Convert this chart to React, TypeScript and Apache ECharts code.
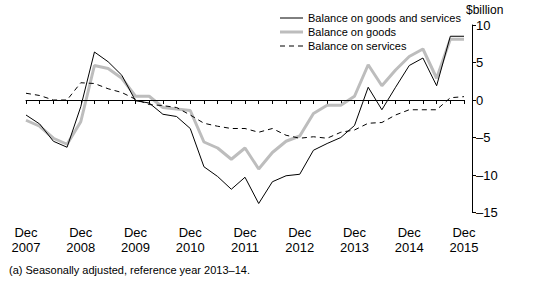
import React, { useEffect, useRef } from "react";
import * as echarts from "echarts";

const categories = [
  "Dec 2007", "Mar 2008", "Jun 2008", "Sep 2008", "Dec 2008", "Mar 2009", "Jun 2009", "Sep 2009",
  "Dec 2009", "Mar 2010", "Jun 2010", "Sep 2010", "Dec 2010", "Mar 2011", "Jun 2011", "Sep 2011",
  "Dec 2011", "Mar 2012", "Jun 2012", "Sep 2012", "Dec 2012", "Mar 2013", "Jun 2013", "Sep 2013",
  "Dec 2013", "Mar 2014", "Jun 2014", "Sep 2014", "Dec 2014", "Mar 2015", "Jun 2015", "Sep 2015",
  "Dec 2015",
];

const goodsAndServices = [
  -2.0, -3.2, -5.5, -6.3, -0.9, 6.4, 5.1, 3.3, -0.1, -0.4, -1.9, -2.2, -3.8, -8.9, -10.2, -11.9,
  -10.3, -13.8, -10.9, -10.1, -9.9, -6.7, -5.8, -5.0, -3.4, 1.7, -1.3, 1.7, 4.6, 5.6, 1.9, 8.5, 8.5,
];

const goods = [
  -2.7, -3.5, -5.1, -5.9, -2.9, 4.6, 4.2, 2.9, 0.5, 0.5, -1.0, -1.2, -1.4, -5.6, -6.4, -7.9,
  -6.4, -9.2, -7.0, -5.5, -4.8, -1.8, -0.7, -0.7, 0.5, 4.7, 1.9, 4.0, 5.8, 6.8, 2.9, 8.1, 8.1,
];

const services = [
  0.9, 0.6, 0.0, 0.0, 2.3, 2.2, 1.5, 1.0, 0.1, -0.6, -0.75, -1.0, -2.0, -3.1, -3.5, -3.8,
  -3.8, -4.3, -3.8, -4.7, -5.1, -4.9, -5.1, -4.3, -4.0, -3.1, -3.0, -2.0, -1.3, -1.3, -1.3, 0.3, 0.45,
];

const seriesNames = ["Balance on goods and services", "Balance on goods", "Balance on services"];
const unitLabel = "$billion";
const footnote = "(a) Seasonally adjusted, reference year 2013\u201314.";

const FONT = "'Liberation Sans', Arial, sans-serif";

const legendStyles = [
  { stroke: "#000", lineWidth: 1, lineDash: null as number[] | null },
  { stroke: "#bdbdbd", lineWidth: 3, lineDash: null as number[] | null },
  { stroke: "#000", lineWidth: 1, lineDash: [5, 4] as number[] | null },
];

export default function App() {
  const ref = useRef<HTMLDivElement>(null);

  useEffect(() => {
    if (!ref.current) return;
    const chart = echarts.init(ref.current, undefined, { renderer: "svg" });

    const legendGraphics: any[] = [];
    seriesNames.forEach((name, i) => {
      const y = 18 + i * 14;
      const st = legendStyles[i];
      legendGraphics.push({
        type: "line",
        shape: { x1: 280, y1: y, x2: 303, y2: y },
        style: { stroke: st.stroke, lineWidth: st.lineWidth, lineDash: st.lineDash || undefined },
        silent: true,
      });
      legendGraphics.push({
        type: "text",
        x: 308,
        y: y,
        style: {
          text: name,
          fontSize: 11,
          fill: "#000",
          fontFamily: FONT,
          verticalAlign: "middle",
          align: "left",
        },
        silent: true,
      });
    });

    chart.setOption({
      animation: false,
      backgroundColor: "#fff",
      textStyle: { fontFamily: FONT, color: "#000" },
      grid: { left: 26, right: 76, top: 25, bottom: 69.5, containLabel: false },
      xAxis: {
        type: "category",
        data: categories,
        boundaryGap: false,
        offset: 7.5,
        axisLine: { show: true, lineStyle: { color: "#000", width: 1 } },
        axisTick: { show: true, interval: 0, length: 4, lineStyle: { color: "#000" } },
        axisLabel: {
          interval: 3,
          margin: 5,
          fontSize: 13,
          lineHeight: 15,
          color: "#000",
          fontFamily: FONT,
          formatter: (v: string) => v.replace(" ", "\n"),
        },
        splitLine: { show: false },
      },
      yAxis: {
        type: "value",
        position: "right",
        min: -15,
        max: 10,
        interval: 5,
        offset: 8,
        axisLine: { show: true, lineStyle: { color: "#000", width: 1 } },
        axisTick: { show: true, length: 4, lineStyle: { color: "#000" } },
        axisLabel: {
          margin: 4,
          fontSize: 13,
          color: "#000",
          fontFamily: FONT,
          formatter: (v: number) => (v < 0 ? "\u2013" + Math.abs(v) : String(v)),
        },
        splitLine: { show: false },
      },
      graphic: [
        {
          type: "text",
          left: 466,
          top: 4,
          style: { text: unitLabel, fontSize: 12, fill: "#000", fontFamily: FONT },
        },
        {
          type: "text",
          left: 9,
          top: 264,
          style: { text: footnote, fontSize: 11, fill: "#000", fontFamily: FONT },
        },
        ...legendGraphics,
      ],
      series: [
        {
          name: seriesNames[1],
          type: "line",
          data: goods,
          symbol: "none",
          lineStyle: { color: "#bdbdbd", width: 3 },
          itemStyle: { color: "#bdbdbd" },
          z: 2,
        },
        {
          name: seriesNames[0],
          type: "line",
          data: goodsAndServices,
          symbol: "none",
          lineStyle: { color: "#000", width: 1 },
          itemStyle: { color: "#000" },
          z: 3,
        },
        {
          name: seriesNames[2],
          type: "line",
          data: services,
          symbol: "none",
          lineStyle: { color: "#000", width: 1, type: [5, 4] },
          itemStyle: { color: "#000" },
          z: 3,
          markLine: {
            silent: true,
            symbol: ["none", "none"],
            label: { show: false },
            lineStyle: { color: "#000", width: 1, type: "solid" },
            data: [{ yAxis: 0 }],
          },
        },
      ],
    });
    return () => chart.dispose();
  }, []);

  return (
    <div
      ref={ref}
      style={{ position: "fixed", left: 0, top: 0, width: 540, height: 282 }}
    />
  );
}
